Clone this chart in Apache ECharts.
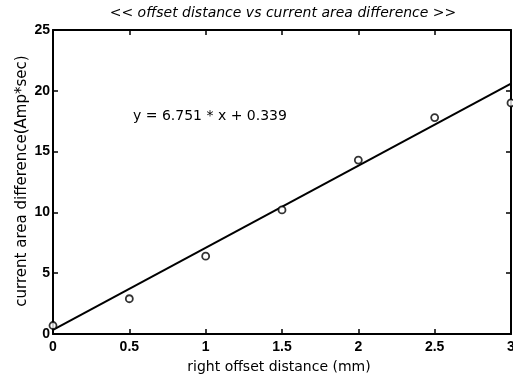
<!DOCTYPE html>
<html>
<head>
<meta charset="utf-8">
<script src="https://cdn.jsdelivr.net/npm/echarts@6/dist/echarts.min.js"></script>
<style>
  html, body { margin: 0; padding: 0; background: #fff; }
  #chart { width: 513px; height: 379px; }
</style>
</head>
<body>
<div id="chart"></div>
<script>
// Measured offset distance (mm) and current area difference (Amp*sec)
const offsetDistance = [0, 0.5, 1, 1.5, 2, 2.5, 3];
const areaDifference = [0.7, 2.9, 6.4, 10.2, 14.3, 17.8, 19.0];

// Least-squares fit reported on the plot
const fitSlope = 6.751;
const fitIntercept = 0.339;
const fitRange = [0, 3];

const xTicks = [0, 0.5, 1, 1.5, 2, 2.5, 3];
const yTicks = [0, 5, 10, 15, 20, 25];

const chartTitle = '<< offset distance vs current area difference >>';
const xName = 'right offset distance (mm)';
const yName = 'current area difference(Amp*sec)';
const fitLabel = 'y = ' + fitSlope + ' * x + ' + fitIntercept;

const font = '"Liberation Sans", Arial, sans-serif';
const wideFont = '"DejaVu Sans", sans-serif';

const points = offsetDistance.map((x, i) => [x, areaDifference[i]]);
const fitLine = fitRange.map(x => [x, fitSlope * x + fitIntercept]);

const boxAxis = (pos, isX, show) => ({
  type: 'value',
  position: pos,
  min: isX ? xTicks[0] : yTicks[0],
  max: isX ? xTicks[xTicks.length - 1] : yTicks[yTicks.length - 1],
  interval: isX ? 0.5 : 5,
  axisLine: { show: true, onZero: false, lineStyle: { color: '#000', width: 2 } },
  axisTick: { show: true, inside: true, length: 5, lineStyle: { color: '#000', width: 1.5 } },
  axisLabel: {
    show: show,
    color: '#000',
    fontFamily: font,
    fontWeight: 'bold',
    fontSize: 14,
    margin: isX ? 6 : 3,
    showMinLabel: true,
    showMaxLabel: true
  },
  splitLine: { show: false }
});

const chart = echarts.init(document.getElementById('chart'), null, { renderer: 'canvas' });
chart.setOption({
  backgroundColor: '#fff',
  animation: false,
  grid: { left: 53, right: 2, top: 30, bottom: 45, containLabel: false, outerBoundsMode: 'none' },
  xAxis: [boxAxis('bottom', true, true), boxAxis('top', true, false)],
  yAxis: [boxAxis('left', false, true), boxAxis('right', false, false)],
  graphic: [
    {
      type: 'text',
      x: 283,
      y: 13,
      style: { text: chartTitle, font: 'italic 14px ' + wideFont, fill: '#000', textAlign: 'center', textVerticalAlign: 'middle' }
    },
    {
      type: 'text',
      x: 279,
      y: 367,
      style: { text: xName, font: '14px ' + wideFont, fill: '#000', textAlign: 'center', textVerticalAlign: 'middle' }
    },
    {
      type: 'text',
      x: 22,
      y: 181,
      rotation: Math.PI / 2,
      style: { text: yName, font: '15px ' + wideFont, fill: '#000', textAlign: 'center', textVerticalAlign: 'middle' }
    },
    {
      type: 'text',
      x: 133,
      y: 116,
      style: { text: fitLabel, font: '14px ' + wideFont, fill: '#000', textVerticalAlign: 'middle' }
    }
  ],
  series: [
    {
      type: 'line',
      data: fitLine,
      showSymbol: false,
      lineStyle: { color: '#000', width: 2 },
      z: 2
    },
    {
      type: 'scatter',
      data: points,
      symbol: 'circle',
      symbolSize: 7,
      itemStyle: { color: '#fff', borderColor: '#000', borderWidth: 1.8 },
      z: 3
    }
  ]
});
</script>
</body>
</html>
